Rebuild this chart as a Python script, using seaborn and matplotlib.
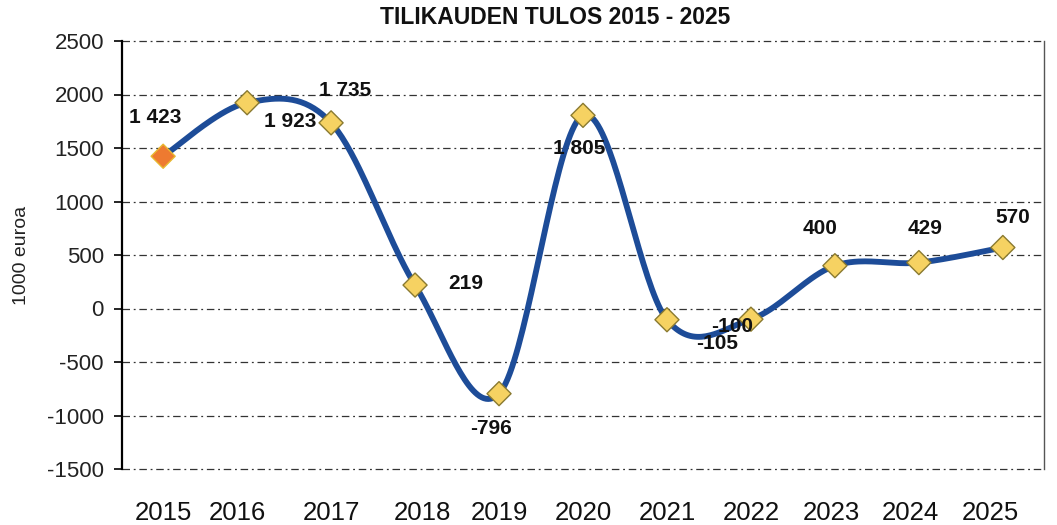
import numpy as np
import pandas as pd
import matplotlib
matplotlib.use("Agg")
import matplotlib.pyplot as plt
import seaborn as sns

# ---- data ----
years = ["2015", "2016", "2017", "2018", "2019", "2020", "2021", "2022", "2023", "2024", "2025"]
values = [1423, 1923, 1735, 219, -796, 1805, -105, -100, 400, 429, 570]
value_labels = ["1 423", "1 923", "1 735", "219", "-796", "1 805", "-105", "-100", "400", "429", "570"]
y_ticks = [-1500, -1000, -500, 0, 500, 1000, 1500, 2000, 2500]
title = "TILIKAUDEN TULOS 2015 - 2025"
y_label = "1000 euroa"

# label placement offsets (layout only: dx in category units, dy in data units)
label_offsets = [(-0.10, 360), (0.51, -180), (0.17, 307), (0.60, 19), (-0.10, -321),
                 (-0.04, -305), (0.60, -218), (-0.23, -64), (-0.18, 343), (0.07, 314), (0.12, 285)]
# small horizontal shifts of the year labels (layout only, category units)
tick_shifts = [0.0, -0.12, 0.0, 0.09, 0.0, 0.0, 0.0, 0.0, -0.04, -0.10, -0.15]

sns.set_theme(style="white")
plt.rcParams['font.family'] = ['Liberation Sans', 'DejaVu Sans']

fig = plt.figure(figsize=(10.57, 5.25), dpi=100)
ax = fig.add_axes([122/1057, 1 - 469/525, (1044-122)/1057, (469-41)/525])

x = np.arange(len(values), dtype=float)
y = np.array(values, dtype=float)

# Excel-style smoothed line (cubic Bezier, Catmull-Rom control points)
xs, ys = [], []
n = len(x)
for i in range(n - 1):
    p0 = np.array([x[max(i-1, 0)], y[max(i-1, 0)]])
    p1 = np.array([x[i], y[i]])
    p2 = np.array([x[i+1], y[i+1]])
    p3 = np.array([x[min(i+2, n-1)], y[min(i+2, n-1)]])
    c1 = p1 + (p2 - p0) / 6.0
    c2 = p2 - (p3 - p1) / 6.0
    t = np.linspace(0, 1, 40)[:, None]
    seg = (1-t)**3 * p1 + 3*(1-t)**2*t*c1 + 3*(1-t)*t**2*c2 + t**3*p2
    if i > 0:
        seg = seg[1:]
    xs.extend(seg[:, 0]); ys.extend(seg[:, 1])
curve = pd.DataFrame({"x": xs, "y": ys})
sns.lineplot(data=curve, x="x", y="y", ax=ax, color="#1D4C98", linewidth=4.2,
             sort=False, estimator=None, zorder=3)

df = pd.DataFrame({"x": x, "y": y, "year": years})
face = ["#EE7A30"] + ["#F6D262"] * (n - 1)
edge = ["#E8B830"] + ["#8A7A30"] * (n - 1)
ax.scatter(df["x"], df["y"], marker="D", s=150, c=face, edgecolors=edge,
           linewidths=1.0, zorder=4)

for xi, yi, lab, (dx, dy) in zip(x, y, value_labels, label_offsets):
    ax.text(xi + dx, yi + dy, lab, ha="center", va="center", fontsize=15,
            fontweight="bold", color="#111111", zorder=5)

ax.set_xlim(-0.49, 10.49)
ax.set_ylim(-1500, 2500)
ax.set_yticks(y_ticks)
ax.set_yticklabels([str(v) for v in y_ticks], fontsize=16, color="#222222")
ax.set_xticks(x + np.array(tick_shifts))
ax.set_xticklabels(years, fontsize=18.5, color="#111111")
ax.tick_params(axis="x", length=0, pad=23)
ax.tick_params(axis="y", length=6, width=1.2, direction="out", color="black", left=True, pad=7)

for yt in y_ticks:
    ax.axhline(yt, color="#333333", linestyle=(0, (6, 3, 1.5, 3)), linewidth=0.9,
               zorder=1, clip_on=False)

ax.spines["left"].set_color("black")
ax.spines["left"].set_linewidth(1.6)
ax.spines["bottom"].set_visible(False)
ax.spines["top"].set_visible(False)
ax.spines["right"].set_color("#555555")
ax.spines["right"].set_linestyle((0, (1.5, 1)))
ax.spines["right"].set_linewidth(1.0)

ax.set_xlabel("")
ax.set_ylabel(y_label, fontsize=14, color="#222222", labelpad=12)
fig.text(555/1057, 1 - 18/525, title, ha="center", va="center", fontsize=16.5,
         fontweight="bold", color="#111111")

fig.savefig("out.png", dpi=100, facecolor="white")
